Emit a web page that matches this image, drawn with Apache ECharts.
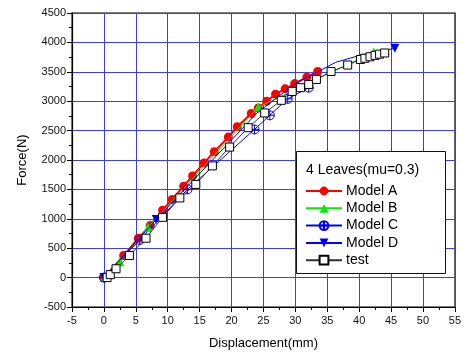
<!DOCTYPE html>
<html>
<head>
<meta charset="utf-8">
<script src="https://cdn.jsdelivr.net/npm/echarts@6/dist/echarts.min.js"></script>
<style>
  html, body { margin: 0; padding: 0; background: #fff; }
  #chart { width: 464px; height: 356px; }
</style>
</head>
<body>
<div id="chart"></div>
<script>
// values
const dispA = [0, 3.1, 5.4, 7.25, 9.2, 10.7, 12.5, 13.9, 15.7, 17.3, 19.5, 20.9, 23.1, 24.2, 25.5, 26.9, 28.4, 29.9, 31.8, 33.5]
const forceA = [0, 375, 670, 885, 1145, 1330, 1555, 1730, 1950, 2140, 2390, 2565, 2790, 2885, 3000, 3120, 3210, 3300, 3410, 3505]

const dispB = [0, 2.5, 6.9, 24.2, 42.3]
const forceB = [0, 270, 850, 2900, 3835]

const dispC = [0, 5.6, 13.1, 23.6, 26.0, 28.8, 32.1]
const forceC = [0, 640, 1500, 2520, 2760, 3040, 3230]

const dispD = [0, 8.2, 24.0, 30.0, 36.3, 40.4, 45.6]
const forceD = [0, 990, 2800, 3300, 3660, 3790, 3900]
const markD = [0, 1, 6] // points of Model D that carry a marker

const dispT = [0.5, 1.0, 1.9, 4.0, 6.6, 9.2, 11.9, 14.4, 17.0, 19.7, 22.6, 25.2, 27.8, 29.5, 30.8, 32.1, 33.3, 35.6, 38.2, 40.2, 40.9, 41.7, 42.5, 43.2, 44.0]
const forceT = [0, 50, 150, 375, 670, 1025, 1355, 1585, 1900, 2220, 2550, 2800, 3015, 3165, 3230, 3285, 3370, 3505, 3615, 3710, 3730, 3755, 3780, 3800, 3820]

const legendTitle = '4 Leaves(mu=0.3)'

const pairs = (xs, ys) => xs.map((x, i) => [x, ys[i]])

const crossCircle = 'path://M0,-10A10,10,0,1,1,0,10A10,10,0,1,1,0,-10ZM-10,0L10,0M0,-10L0,10'
const downTri = 'path://M-10,-8L10,-8L0,10Z'

const font = 'Liberation Sans, Arial, sans-serif'

const chart = echarts.init(document.getElementById('chart'), null, { renderer: 'canvas' })

const option = {
	animation: false,
	backgroundColor: '#fff',
	grid: {
		left: 72,
		right: 8,
		top: 13,
		bottom: 49,
		show: true,
		borderColor: '#555',
		borderWidth: 1.5,
	},
	xAxis: {
		type: 'value',
		min: -5,
		max: 55,
		interval: 5,
		name: 'Displacement(mm)',
		nameLocation: 'middle',
		nameGap: 30,
		nameTextStyle: { fontFamily: font, fontSize: 13, color: '#000' },
		axisLine: { onZero: false, lineStyle: { color: '#000', width: 1.2 } },
		axisTick: { length: 5, lineStyle: { color: '#000' } },
		minorTick: { show: true, splitNumber: 2, length: 3, lineStyle: { color: '#000' } },
		axisLabel: { fontFamily: font, fontSize: 11, color: '#111', margin: 8 },
		splitLine: { show: true, lineStyle: { color: '#3a3aff', width: 1 } },
	},
	yAxis: {
		type: 'value',
		min: -500,
		max: 4500,
		interval: 500,
		name: 'Force(N)',
		nameLocation: 'middle',
		nameGap: 43,
		nameTextStyle: { fontFamily: font, fontSize: 13, color: '#000' },
		axisLine: { show: true, onZero: false, lineStyle: { color: '#000', width: 1.2 } },
		axisTick: { show: true, length: 5, lineStyle: { color: '#000' } },
		minorTick: { show: true, splitNumber: 2, length: 3, lineStyle: { color: '#000' } },
		axisLabel: { fontFamily: font, fontSize: 11, color: '#111', margin: 6, formatter: (v) => String(v) },
		splitLine: { show: true, lineStyle: { color: '#3a3aff', width: 1 } },
	},
	legend: {
		orient: 'vertical',
		left: 305,
		top: 184,
		z: 100,
		itemWidth: 36,
		itemHeight: 11,
		itemGap: 3.3,
		padding: 0,
		textStyle: { fontFamily: font, fontSize: 14, color: '#000', padding: [0, 0, 0, -1] },
		data: ['Model A', 'Model B', 'Model C', 'Model D', 'test'],
	},
	graphic: [
		{
			type: 'rect',
			left: 296,
			top: 151,
			shape: { width: 149, height: 122 },
			style: { fill: '#fff', stroke: '#111', lineWidth: 1 },
			z: 50,
		},
		{
			type: 'text',
			left: 306,
			top: 163,
			style: { text: legendTitle, font: '14px ' + font, fill: '#000' },
			z: 51,
		},
	],
	series: [
		{
			name: 'Model A',
			type: 'line',
			data: pairs(dispA, forceA),
			symbol: 'circle',
			symbolSize: 9,
			lineStyle: { color: '#ff0000', width: 2 },
			itemStyle: { color: '#ff0000' },
			z: 2,
		},
		{
			name: 'Model B',
			type: 'line',
			data: pairs(dispB, forceB),
			symbol: 'triangle',
			symbolSize: 9,
			lineStyle: { color: '#00ee00', width: 1 },
			itemStyle: { color: '#00ee00' },
			z: 3,
		},
		{
			name: 'Model C',
			type: 'line',
			data: pairs(dispC, forceC),
			symbol: crossCircle,
			symbolSize: 9,
			lineStyle: { color: '#0000ff', width: 1 },
			itemStyle: { color: 'none', borderColor: '#0000ff', borderWidth: 1 },
			z: 3,
		},
		{
			name: 'Model D',
			type: 'line',
			data: pairs(dispD, forceD),
			symbol: downTri,
			symbolSize: (v, p) => (p && p.dataIndex != null && markD.indexOf(p.dataIndex) < 0 ? 0 : 9),
			lineStyle: { color: '#0000ff', width: 1 },
			itemStyle: { color: '#0000ff' },
			z: 4,
		},
		{
			name: 'test',
			type: 'line',
			data: pairs(dispT, forceT),
			symbol: 'rect',
			symbolSize: 8,
			lineStyle: { color: '#333', width: 1 },
			itemStyle: { color: '#fff', borderColor: '#000', borderWidth: 1 },
			z: 5,
		},
	],
}

chart.setOption(option)
</script>
</body>
</html>
